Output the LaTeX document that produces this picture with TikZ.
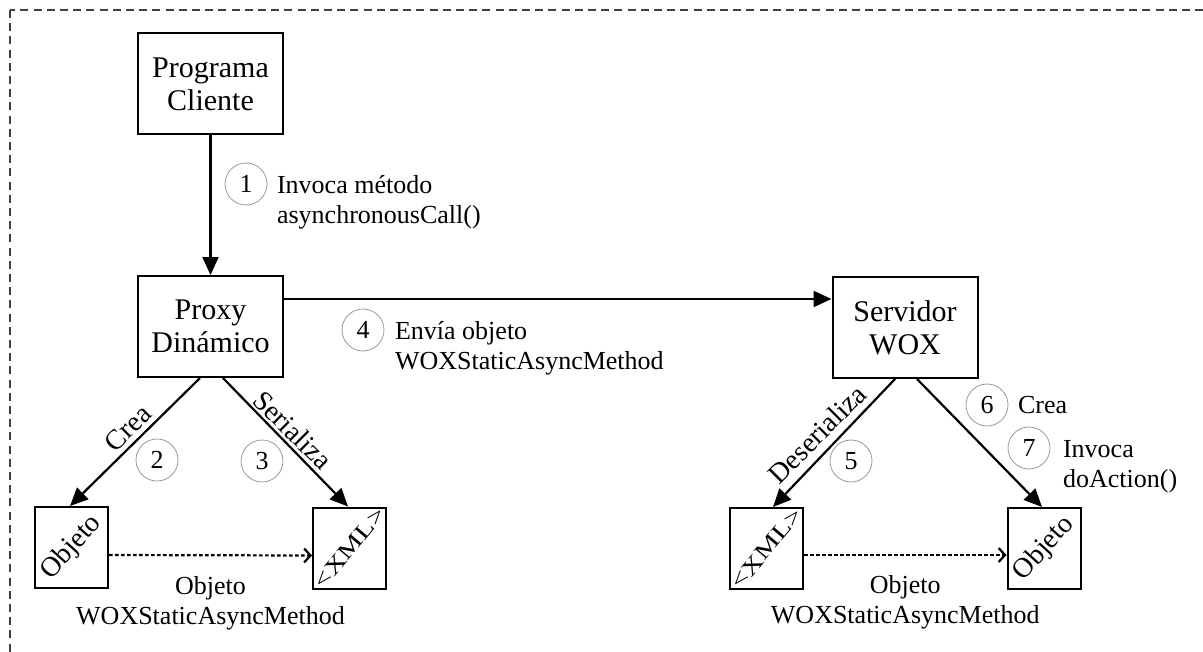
\documentclass[tikz,border=0pt]{standalone}
\usepackage{fontspec}
\setmainfont{Liberation Serif}
\usetikzlibrary{arrows.meta}

\begin{document}
\begin{tikzpicture}[x=0.5pt, y=-0.5pt]
	\tikzstyle{comp} = [
		rectangle, draw=black, line width=1pt, align=center,
		font=\fontsize{15}{16.5}\selectfont
	]
	\tikzstyle{component} = [
		comp, minimum width=72.5pt, minimum height=50.5pt
	]
	\tikzstyle{component_small} = [
		comp, minimum width=36.5pt, minimum height=40.5pt
	]
	\tikzstyle{caption} = [
		align=left, font=\fontsize{13}{15}\selectfont
	]
	\tikzstyle{caption_rot} = [
		font=\fontsize{14}{16}\selectfont
	]
	\tikzstyle{step_circle} = [
		circle, draw=black!40, line width=0.4pt, minimum size=21pt, inner sep=0pt,
		font=\fontsize{13}{15}\selectfont
	]
	\tikzstyle{conn} = [
		line width=1.1pt, -{Triangle[length=9pt, width=8pt]}
	]
	\tikzstyle{conn_dotted} = [
		line width=1.1pt, dash pattern=on 1.8pt off 1.2pt,
		-{Straight Barb[length=3.2pt, width=7pt]}
	]

	\useasboundingbox (0,0) rectangle (1203,652);
	\clip (0,0) rectangle (1203,652);

	% Frame
	\draw[black!75, line width=0.9pt, dash pattern=on 4pt off 2.6pt] (10,10) rectangle (1240,690);

	% Client, proxy, server
	\node (Cliente) [component] at (210.5,84) {Programa\\Cliente};
	\node (Proxy) [component] at (210.5,326.5) {Proxy\\Dinámico};
	\node (Servidor) [component] at (905,327.5) {Servidor\\WOX};

	% Proxy side
	\node (ObjetoP) [component_small] at (71.5,547.5) {}
		node [caption_rot, rotate=48] at (ObjetoP.center) {Objeto};
	\node (XMLP) [component_small] at (349.5,548) {}
		node [caption_rot, rotate=50] at (XMLP.center) {\scalebox{1.05}[0.8]{<XML>}};

	% Server side
	\node (XMLS) [component_small] at (766.5,548.5) {}
		node [caption_rot, rotate=50] at (XMLS.center) {\scalebox{1.05}[0.8]{<XML>}};
	\node (ObjetoS) [component_small] at (1044,548.5) {}
		node [caption_rot, rotate=48] at (ObjetoS.center) {Objeto};

	% Steps
	\node (Paso1) [step_circle] at (246,184) {1};
	\node (Paso1_txt) [caption, anchor=west] at (270,202) {Invoca método\\asynchronousCall()};
	\node (Paso2) [step_circle] at (157,460) {2};
	\node (Paso3) [step_circle] at (262,461) {3};
	\node (Paso4) [step_circle] at (363,330) {4};
	\node (Paso4_txt) [caption, anchor=west] at (388,348) {Envía objeto\\WOXStaticAsyncMethod};
	\node (Paso5) [step_circle] at (851,461) {5};
	\node (Paso6) [step_circle] at (987,405) {6};
	\node (Paso6_txt) [caption, anchor=west] at (1011,405) {Crea};
	\node (Paso7) [step_circle] at (1029,448) {7};
	\node (Paso7_txt) [caption, anchor=west] at (1056,467) {Invoca\\doAction()};

	% Client -> Proxy -> Server
	\draw[conn] (Cliente) -- (Proxy);
	\coordinate [yshift=13.75pt] (Proxy_out) at (Proxy.east);
	\draw[conn] (Proxy_out) -- (Proxy_out -| Servidor.west);

	% Proxy -> objects
	\draw[conn] ([xshift=-5.25pt]Proxy.south) -- ([xshift=-0.75pt]ObjetoP.north);
	\draw[conn] ([xshift=6.25pt]Proxy.south) -- ([xshift=-0.75pt]XMLP.north);
	\node (Crea_txt) [caption_rot, rotate=45] at (128,428) {Crea};
	\node (Serializa_txt) [caption_rot, rotate=-45] at (293,430) {Serializa};
	\draw[conn_dotted] ([yshift=-3.75pt]ObjetoP.east) -- ([yshift=-3.75pt]XMLP.west)
		node [caption, align=center, midway, below=6.5pt] {Objeto\\WOXStaticAsyncMethod};

	% Server -> objects
	\draw[conn] ([xshift=-5pt]Servidor.south) -- ([xshift=3.25pt]XMLS.north);
	\draw[conn] ([xshift=6pt]Servidor.south) -- ([xshift=-1pt]ObjetoS.north);
	\node (Deserializa_txt) [caption_rot, rotate=45] at (817,434) {Deserializa};
	\draw[conn_dotted] ([yshift=-3.25pt]XMLS.east) -- ([yshift=-3.25pt]ObjetoS.west)
		node [caption, align=center, midway, below=6.5pt] {Objeto\\WOXStaticAsyncMethod};

\end{tikzpicture}
\end{document}
